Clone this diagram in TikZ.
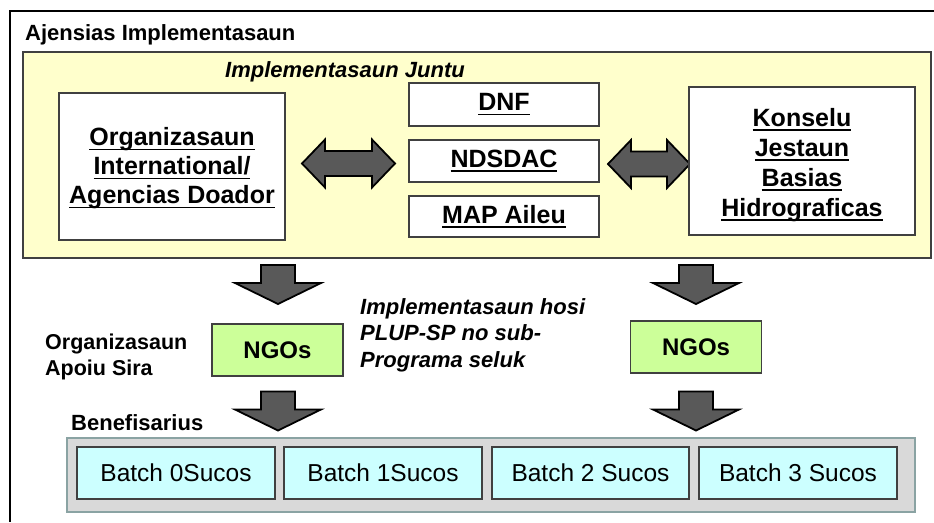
\documentclass[tikz,border=0pt]{standalone}
\usepackage{fontspec}
\setmainfont{Liberation Sans}
\usepackage{tikz}
\usetikzlibrary{positioning}
\newcommand{\ulword}[1]{\leavevmode\setbox0=\hbox{#1}\rlap{\rule[-4.6pt]{\wd0}{1.6pt}}\box0}
\definecolor{panelyellow}{HTML}{FFFFCC}
\definecolor{ngogreen}{HTML}{CCFF99}
\definecolor{batchcyan}{HTML}{CCFFFF}
\definecolor{traygray}{HTML}{D9D9D9}
\definecolor{trayedge}{HTML}{8AA3A3}
\definecolor{arrowgray}{HTML}{595959}
\definecolor{edgegray}{HTML}{404040}
\tikzset{blockfill/.style={fill=arrowgray, draw=black, line width=1.8pt, line join=miter},
    pics/twoway/.style={code={
        \path[blockfill] ({-#1},0) -- ({-#1+23},-24) -- ({-#1+23},-12.5) -- ({#1-23},-12.5)
            -- ({#1-23},-24) -- ({#1},0) -- ({#1-23},24) -- ({#1-23},12.5)
            -- ({-#1+23},12.5) -- ({-#1+23},24) -- cycle;
        }},
    pics/downway/.style={code={
        \path[blockfill] (-17,-19.5) -- (17,-19.5) -- (17,-1.5) -- (43,-1.5) -- (0,19.5)
            -- (-43,-1.5) -- (-17,-1.5) -- cycle;
        }}
}

\begin{document}
\begin{tikzpicture}[x=1pt, y=-1pt,
    panel/.style={rectangle, draw=edgegray, line width=1.3pt, fill=panelyellow, minimum width=908pt, minimum height=206pt},
    whitebox/.style={rectangle, draw=edgegray, line width=1.1pt, fill=white, align=center, inner sep=0pt,
        font=\bfseries\fontsize{25}{29}\selectfont},
    ngobox/.style={rectangle, draw=edgegray, line width=1.1pt, fill=ngogreen, minimum width=131pt, minimum height=52pt,
        font=\bfseries\fontsize{24}{28}\selectfont},
    batchbox/.style={rectangle, draw=edgegray, line width=1.1pt, fill=batchcyan, minimum width=198pt, minimum height=52pt,
        font=\fontsize{24.5}{28}\selectfont},
    heading/.style={anchor=base west, inner sep=0pt, font=\bfseries\fontsize{22}{26}\selectfont},
    note/.style={anchor=base west, inner sep=0pt, align=left, font=\bfseries\itshape\fontsize{22}{26.5}\selectfont}]
    \useasboundingbox (0,0) rectangle (934,522);
    \draw[line width=1.8pt] (934,11) -- (10,11) -- (10,522);

    \node[heading] (ajensias) at (25,40) {Ajensias Implementasaun};
    \node[panel] (juntu) at (477,155) {};
    \node[note] (juntutitle) at (225,77) {Implementasaun Juntu};

    \node[whitebox, minimum width=226pt, minimum height=147pt] (doador) at (172,166.5)
        {\rule{0pt}{22pt}\ulword{Organizasaun}\\\ulword{International/}\\\ulword{Agencias Doador}};
    \node[whitebox, minimum width=190pt, minimum height=43pt] (dnf) at (504,104.5) {\ulword{DNF}};
    \node[whitebox, minimum width=190pt, minimum height=42pt] (ndsdac) at (504,161) {\ulword{NDSDAC}};
    \node[whitebox, minimum width=190pt, minimum height=41pt] (mapaileu) at (504,216.5) {\ulword{MAP Aileu}};
    \pic (arrleft) at (348.5,163.5) {twoway=46.5};
    \pic (arrright) at (649,164) {twoway=41};
    \node[whitebox, minimum width=226pt, minimum height=148pt, font=\bfseries\fontsize{25}{30}\selectfont] (konselu) at (802,161)
        {\rule{0pt}{26pt}\ulword{Konselu}\\\ulword{Jestaun}\\\ulword{Basias}\\\ulword{Hidrograficas}};

    \pic (downA) at (278,284.5) {downway};
    \pic (downB) at (696,284.5) {downway};

    \node[heading, align=left, font=\bfseries\fontsize{21.5}{26}\selectfont] (apoiu) at (45,375) {Organizasaun\\Apoiu Sira};
    \node[ngobox] (ngoleft) at (277.5,350) {NGOs};
    \node[ngobox] (ngoright) at (696,347) {NGOs};
    \node[note] (plup) at (360,367) {Implementasaun hosi\\PLUP-SP no sub-\\Programa seluk};

    \pic (downC) at (278,411) {downway};
    \pic (downD) at (696,411) {downway};

    \node[heading] (benefisarius) at (71,430) {Benefisarius};
    \node[rectangle, draw=trayedge, line width=2.5pt, fill=traygray, minimum width=848pt, minimum height=74pt] (tray) at (491,475) {};
    \node[batchbox] (batch0) at (176,473) {Batch 0Sucos};
    \node[batchbox] (batch1) at (383,473) {Batch 1Sucos};
    \node[batchbox, minimum width=197pt] (batch2) at (590.5,473) {Batch 2 Sucos};
    \node[batchbox] (batch3) at (798,473) {Batch 3 Sucos};
\end{tikzpicture}
\end{document}
